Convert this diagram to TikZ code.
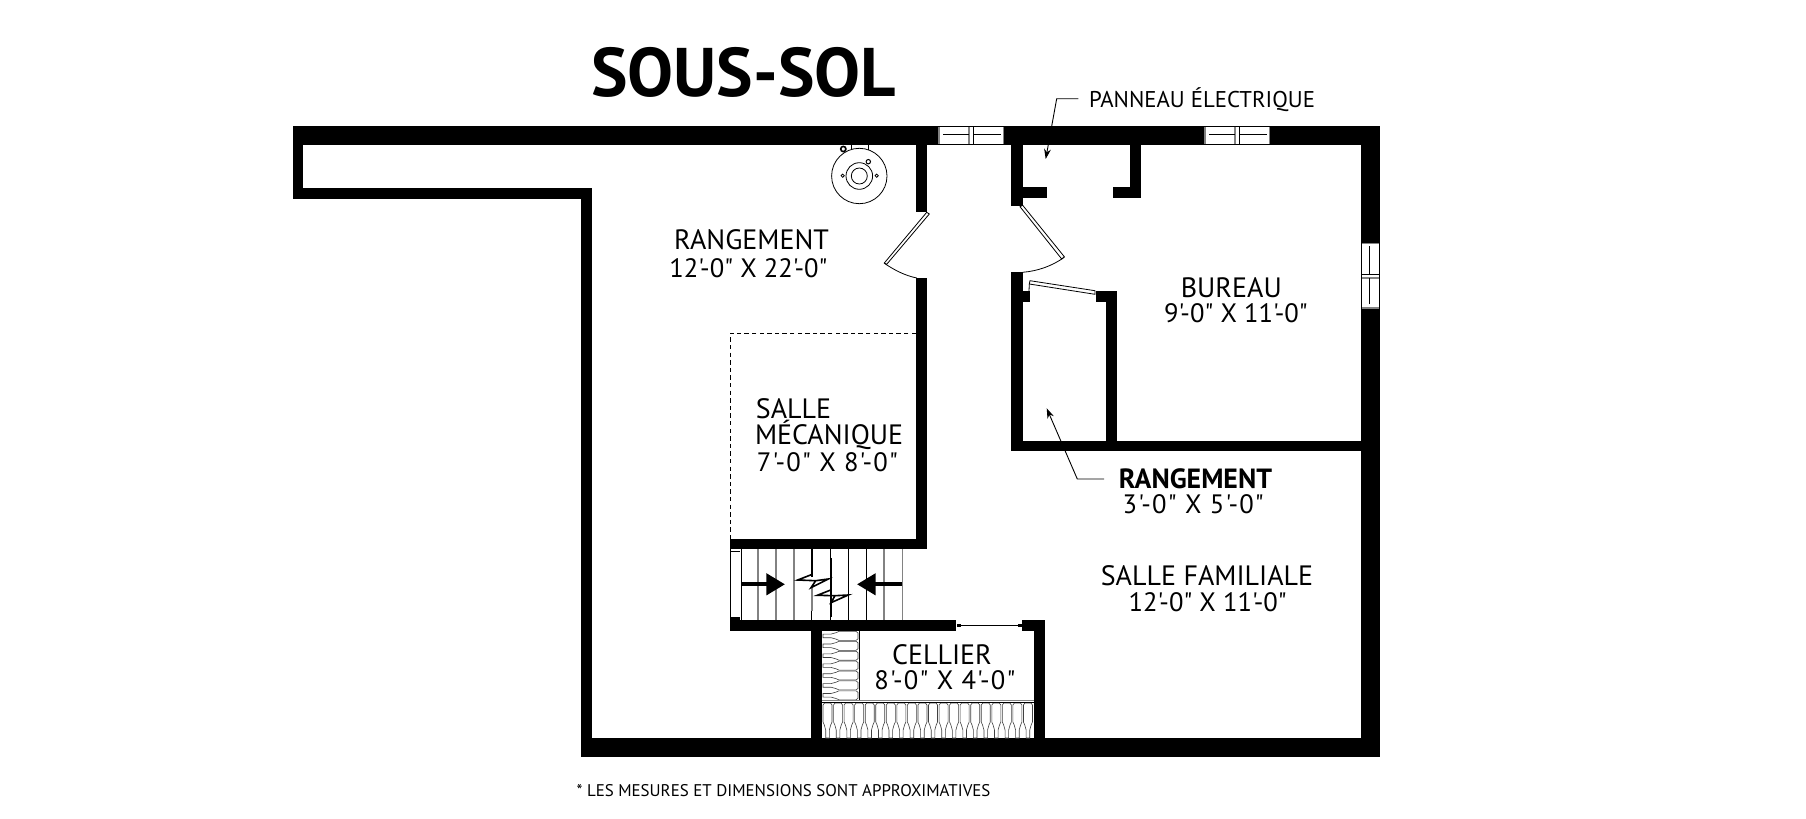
\documentclass[tikz,border=0pt]{standalone}
\usepackage{fontspec}
\usetikzlibrary{arrows.meta}
\newfontfamily\din{PT Sans}
\newfontfamily\dinwide[LetterSpace=4.5]{PT Sans}
\definecolor{treadgray}{RGB}{130,130,130}
\tikzset{
  wallfill/.style={fill=black},
  thin line/.style={line width=0.4pt},
  roomname/.style={font=\din\fontsize{14}{15}\selectfont,inner sep=0pt,anchor=base},
  roomsize/.style={font=\din\fontsize{13.3}{14}\selectfont,inner sep=0pt,anchor=base},
  roomsizewide/.style={font=\dinwide\fontsize{13.3}{14}\selectfont,inner sep=0pt,anchor=base},
  roombold/.style={font=\din\bfseries\fontsize{13.9}{15}\selectfont,inner sep=0pt,anchor=base},
  leader/.style={line width=0.45pt,-{Stealth[length=5pt,width=3.4pt]}},
  stairarrow/.style={line width=2.1pt,-{Triangle[length=9.3pt,width=10.5pt]}},
  window/.pic={
    \fill[white] (0,0) rectangle (66,19);
    \draw[treadgray,line width=0.8pt] (1,0) -- (1,19);
    \draw[treadgray,line width=0.8pt] (31,0) -- (31,19);
    \draw[treadgray,line width=0.8pt] (65.5,0) -- (65.5,19);
    \draw[line width=0.3pt] (5,8) -- (31,8);
    \draw[line width=0.3pt] (35,8) -- (63,8);
    \draw[line width=0.3pt] (0,0.3) -- (66,0.3);
    \draw[line width=0.3pt] (0,18) -- (66,18);
    \draw[line width=0.3pt] (35,0) -- (35,19);
  },
  bottle/.pic={
    \draw[black!75,line width=0.3pt,fill=white] (-3.2,22) -- (-4.5,19) -- (-4.5,2) -- (-3,0) -- (3,0) -- (4.5,2)
      -- (4.5,19) -- (3.2,22) -- (1.8,27) -- (1.8,35) -- (-1.8,35) -- (-1.8,27) -- cycle;
  }
}

\begin{document}
\begin{tikzpicture}[x=0.5pt,y=-0.5pt]
\useasboundingbox (0,0) rectangle (1806,819);
% title and notes
\node[font=\din\bfseries\fontsize{34.4}{36}\selectfont,inner sep=0pt,anchor=base] (title) at (743.5,96.5) {SOUS-SOL};
\node[font=\din\fontsize{11.4}{13}\selectfont,inner sep=0pt,anchor=base] (panneau) at (1202,107.7) {PANNEAU ÉLECTRIQUE};
\node[font=\din\fontsize{8.45}{10}\selectfont,inner sep=0pt,anchor=base] (note) at (783.5,796.7) {* LES MESURES ET DIMENSIONS SONT APPROXIMATIVES};
% outer walls
\fill[wallfill] (292.5,126) rectangle (1380,145);
\fill[wallfill] (292.5,126) rectangle (303,199.3);
\fill[wallfill] (292.5,188.3) rectangle (591.6,199.3);
\fill[wallfill] (581,188.3) rectangle (591.6,757);
\fill[wallfill] (581,738) rectangle (1380,757);
\fill[wallfill] (1361,126) rectangle (1380,757);
% corridor walls
\fill[wallfill] (916,145) rectangle (927,212.3);
\fill[wallfill] (916,278) rectangle (927,549);
\fill[wallfill] (730,539) rectangle (927,549);
\fill[wallfill] (1011,145) rectangle (1022.7,205.7);
\fill[wallfill] (1011,187.3) rectangle (1047,198);
\fill[wallfill] (1130,145) rectangle (1140.7,198);
\fill[wallfill] (1113.3,187.3) rectangle (1140.7,198);
% closet
\fill[wallfill] (1011,272) rectangle (1022.7,451);
\fill[wallfill] (1011,291) rectangle (1030,302);
\fill[wallfill] (1095.7,291) rectangle (1116.7,302);
\fill[wallfill] (1105.7,291) rectangle (1116.7,451);
\fill[wallfill] (1011,440.7) rectangle (1361,451);
% stair and cellar walls
\fill[wallfill] (730,620) rectangle (956,630.7);
\fill[wallfill] (730,617) rectangle (740,620);
\fill[wallfill] (1022,620) rectangle (1045,630.7);
\fill[wallfill] (811,630) rectangle (822.3,738);
\fill[wallfill] (1034.3,620) rectangle (1045,738);
% windows
\pic at (938,126) {window};
\pic at (1204,126) {window};
\pic[rotate=90] at (1361,309) {window};
% doors
\draw[thin line,fill=white] (926.7,212.3) -- (929.3,214) -- (886.7,264.3) -- (884.3,263) -- cycle;
\draw[thin line] (884.3,263.3) .. controls (895,270.5) and (905,275.5) .. (916.7,278);
\draw[thin line,fill=white] (1020,206.7) -- (1022.7,205.3) -- (1064.3,256.7) -- (1061.7,259) -- cycle;
\draw[thin line] (1064.3,257.3) .. controls (1052,266) and (1038,271) .. (1022.7,272.3);
\draw[thin line,fill=white] (1030,280.7) -- (1095,290.7) -- (1095,294.3) -- (1029.3,284) -- cycle;
\draw[thin line] (1029.3,284) -- (1029,291);
% sliding door
\draw[line width=0.7pt] (958,625.3) -- (1020,625.3);
\fill (957,623.5) rectangle (960.5,627);
\fill (1018,623.5) rectangle (1022,627);
% furnace
\draw[thin line] (859.3,176) circle (27.7);
\draw[thin line] (859.3,176) circle (13.3);
\draw[thin line] (859.3,176) circle (8);
\draw[thin line] (842.7,175.7) circle (1.6);
\draw[thin line] (876.7,175.7) circle (1.6);
\draw[line width=0.5pt] (868.3,161.7) circle (2.2);
\draw[line width=0.8pt] (843.3,149) circle (2.6);
\draw[thin line] (851.7,145) -- (851.7,149.5);
\draw[thin line] (868.3,145) -- (868.3,149.5);
% mechanical room limit
\draw[line width=0.35pt,dash pattern=on 2.2pt off 1.6pt] (916,333) -- (730.4,333) -- (730.4,539);
% stairs
\draw[thin line] (730.4,549) -- (730.4,617);
\draw[thin line] (730.4,551) -- (740,551);
\foreach \tx in {741,811.7,830.7,848.7,866}
  \draw[line width=0.5pt] (\tx,549) -- (\tx,620);
\foreach \tx in {758,776,794,884,902.3}
  \draw[treadgray,line width=0.8pt] (\tx,549) -- (\tx,620);
\draw[line width=0.8pt] (811.7,549) -- (811.7,577);
\fill[white] (809,577) rectangle (814,586.5);
\draw[treadgray,line width=0.9pt] (811.7,586.5) -- (811.7,611);
\draw[line width=1pt] (830.7,558) -- (830.7,617);
\draw[stairarrow] (741,584.3) -- (785,584.3);
\draw[stairarrow] (902,584.3) -- (857,584.3);
\draw[line width=0.8pt] (812.3,574.3) -- (797.7,580) -- (815.7,580.7) -- (811,587.7) -- (828.3,579) -- (815.7,580.7);
\draw[line width=0.8pt] (830.7,590) -- (817.3,595.3) -- (835,595.7) -- (831,602.7) -- (848.3,595) -- (835,595.7);
% cellar shelves
\begin{scope}
\clip (822.3,630.7) rectangle (1034.3,738);
\foreach \by in {1,...,7}
  \pic[rotate=-90] at (858,631+9.9*\by-5) {bottle};
\foreach \bx in {0,...,19}
  \pic at (827.5+10.55*\bx,703) {bottle};
\end{scope}
\draw[thin line] (859.3,630.7) -- (859.3,701);
\draw[treadgray,line width=0.6pt] (822.3,700.5) -- (1034.3,700.5);
\draw[thin line] (822.3,702.7) -- (1034.3,702.7);
% room labels
\node[roomname] (rangement) at (751.5,249.3) {RANGEMENT};
\node[roomsize] (rangementsize) at (748.5,277.3) {12'-0" X 22'-0"};
\node[roomname] (bureau) at (1231.3,297.3) {BUREAU};
\node[roomsize] (bureausize) at (1236,322.7) {9'-0" X 11'-0"};
\node[roomname,anchor=base west] (salle) at (755.5,418) {SALLE};
\node[roomname,anchor=base west] (mecanique) at (754.6,444.7) {MÉCANIQUE};
\node[roomsizewide] (mecaniquesize) at (827.5,471) {7'-0" X 8'-0"};
\node[roombold] (closet) at (1195.5,488.5) {RANGEMENT};
\node[roomsizewide] (closetsize) at (1193.3,513) {3'-0" X 5'-0"};
\node[roomname] (familiale) at (1207,585) {SALLE FAMILIALE};
\node[roomsize] (familialesize) at (1207.7,611.7) {12'-0" X 11'-0"};
\node[roomname] (cellier) at (942,664) {CELLIER};
\node[roomsizewide] (celliersize) at (945,689) {8'-0" X 4'-0"};
% leaders
\coordinate (panneauend) at (1078.3,98.7);
\coordinate (panneaubend) at (1056.7,98.7);
\coordinate (panneautip) at (1045.7,159);
\draw[leader] (panneauend) -- (panneaubend) -- (panneautip);
\coordinate (closetend) at (1104,479);
\coordinate (closetbend) at (1077.3,479);
\coordinate (closettip) at (1046.7,408.3);
\draw[leader] (closetend) -- (closetbend) -- (closettip);
\end{tikzpicture}
\end{document}
